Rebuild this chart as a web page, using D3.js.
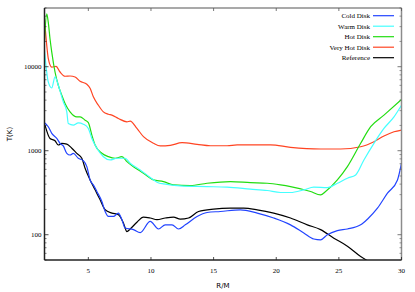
<!DOCTYPE html>
<html>
<head>
<meta charset="utf-8">
<script src="https://cdn.jsdelivr.net/npm/d3@7"></script>
<style>
body { margin: 0; background: #fff; }
</style>
</head>
<body>
<script>
// radius R/M for each series, temperature T(K)
var coldR = [1.5,1.8,2.08,2.48,2.74,3.0,3.28,3.54,3.8,4.2,4.6,4.88,5.14,5.4,5.68,6.08,6.34,6.6,7.0,7.4,7.68,7.94,8.6,9.14,9.94,10.6,11.14,11.68,12.2,12.74,13.68,14.48,15.54,17.14,18.48,19.8,21.14,22.2,23.0,23.54,24.08,24.88,25.68,26.74,27.28,28.08,28.88,29.68,30];
var coldT = [2150,1930,1610,1400,1225,1140,931,889,931,813,761,646,449,392,327,248,189,165,165,181,151,120,115,106,144,117,131,131,117,131,165,184,189,198,181,158,131,105,89,87,100,112,117,131,153,207,312,449,710];

var warmR = [1.5,1.8,2.08,2.34,2.6,3.0,3.28,3.4,3.8,4.2,4.6,5.0,5.28,5.68,6.2,6.74,7.28,7.94,8.34,9.14,9.94,10.68,11.0,12.34,14.48,16.08,17.94,19.28,20.34,21.14,22.2,23.0,24.08,24.88,25.68,26.34,27.0,27.8,28.6,29.4,30];
var warmT = [15700,6590,5580,7560,6020,3810,2900,2110,2020,2150,2070,1840,1400,1070,849,776,813,813,710,590,481,410,403,381,374,368,349,336,318,318,342,368,364,410,471,515,776,1225,1840,2530,3480];

var hotR = [1.5,1.68,1.8,1.94,2.08,2.34,2.6,2.88,3.14,3.54,4.08,4.34,4.74,5.0,5.28,5.54,6.08,6.6,7.14,7.68,8.08,8.6,9.4,10.2,11.0,11.8,13.14,14.48,16.34,17.94,19.28,20.34,21.14,22.74,23.54,23.94,24.88,25.68,26.74,27.54,28.6,30];
var hotT = [20600,42600,33900,21500,14900,8650,6020,4580,3650,2900,2530,2530,2310,2160,1535,1170,931,849,813,849,741,646,540,449,429,392,385,410,429,417,410,392,374,327,298,327,449,646,1225,1930,2650,4070];

var veryHotR = [1.5,1.68,1.8,2.08,2.42,2.74,3.14,3.54,3.94,4.34,4.88,5.14,5.4,5.8,6.2,6.6,6.88,7.4,8.08,8.34,8.88,9.4,10.2,10.74,11.54,12.48,13.68,14.74,16.08,16.88,18.2,19.54,21.14,23.54,25.14,26.74,27.8,28.6,29.4,30];
var veryHotT = [37000,17900,12600,9900,10100,8650,7700,7750,7550,6710,6180,5550,4380,3480,2900,2720,2650,2420,2210,2250,1840,1470,1225,1140,1160,1245,1190,1145,1145,1175,1175,1175,1097,1048,1048,1115,1280,1495,1680,1760];

var refR = [1.54,1.94,2.34,2.6,2.88,3.28,3.68,4.08,4.48,4.74,5.14,5.54,5.94,6.34,6.88,7.4,7.8,8.08,8.34,8.88,9.4,9.94,10.48,11.14,11.8,12.34,13.0,13.8,15.0,16.34,17.4,18.48,19.8,21.14,22.48,23.54,24.6,25.68,26.74,27.28];
var refT = [2020,1400,1315,1170,1225,1200,1070,931,813,618,449,342,260,198,181,173,138,109,117,141,162,158,151,158,162,153,158,189,202,207,207,198,181,158,131,115,91,73,55,49];

var seriesNames = ["Cold Disk","Warm Disk","Hot Disk","Very Hot Disk","Reference"];
var seriesColors = ["#2244ff","#44ffff","#22dd11","#ff4422","#000000"];
var xTicks = [5,10,15,20,25,30];
var yTicks = [100,1000,10000];

var width = 415, height = 292;
var plotLeft = 44.5, plotRight = 401.5, plotTop = 8, plotBottom = 260;

var svg = d3.select('body').append('svg')
	.attr("width", width)
	.attr("height", height);

var x = d3.scaleLinear().domain([1.5, 30]).range([plotLeft, plotRight]);
var y = d3.scaleLog().domain([50, 50000]).range([plotBottom, plotTop]);

svg.append("defs").append("clipPath").attr("id", "plotClip")
	.append("rect")
	.attr("x", plotLeft).attr("y", plotTop)
	.attr("width", plotRight - plotLeft).attr("height", plotBottom - plotTop);

// minor ticks for the log axis
var minorTicks = [];
[10,100,1000,10000].forEach(function(d){
	for (var k=2; k<10; k++){
		if (d*k >= 50 && d*k <= 50000) minorTicks.push(d*k);
	}
});

var allR = [coldR, warmR, hotR, veryHotR, refR];
var allT = [coldT, warmT, hotT, veryHotT, refT];

var line = d3.line()
	.x(function(d){ return x(d[0]); })
	.y(function(d){ return y(d[1]); })
	.curve(d3.curveMonotoneX);

var plot = svg.append("g").attr("clip-path", "url(#plotClip)");
// draw in reverse so cold disk ends up on top of reference
for (var s=4; s>=0; s--){
	var pts = allR[s].map(function(r, i){ return [r, allT[s][i]]; });
	plot.append("path")
		.attr("d", line(pts))
		.attr("fill", "none")
		.attr("stroke", seriesColors[s])
		.attr("stroke-width", 1.2);
}

var frame = svg.append("g");
// top and right edges are grey
frame.append("line").attr("x1", plotLeft).attr("x2", plotRight).attr("y1", plotTop).attr("y2", plotTop)
	.attr("stroke", "#8c8c8c").attr("stroke-width", 1.5);
frame.append("line").attr("x1", plotRight).attr("x2", plotRight).attr("y1", plotTop).attr("y2", plotBottom)
	.attr("stroke", "#8c8c8c").attr("stroke-width", 1.5);
frame.append("line").attr("x1", plotLeft).attr("x2", plotRight).attr("y1", plotBottom).attr("y2", plotBottom)
	.attr("stroke", "#222").attr("stroke-width", 1.5);
frame.append("line").attr("x1", plotLeft).attr("x2", plotLeft).attr("y1", plotTop).attr("y2", plotBottom)
	.attr("stroke", "#222").attr("stroke-width", 1.5);

// x ticks, inward on bottom and top
xTicks.forEach(function(t){
	frame.append("line").attr("x1", x(t)).attr("x2", x(t)).attr("y1", plotBottom).attr("y2", plotBottom-3)
		.attr("stroke", "#222").attr("stroke-width", 0.8);
	frame.append("line").attr("x1", x(t)).attr("x2", x(t)).attr("y1", plotTop).attr("y2", plotTop+3)
		.attr("stroke", "#555").attr("stroke-width", 0.8);
});
// y ticks, inward on left and right
yTicks.forEach(function(t){
	frame.append("line").attr("x1", plotLeft).attr("x2", plotLeft+4).attr("y1", y(t)).attr("y2", y(t))
		.attr("stroke", "#222").attr("stroke-width", 0.8);
	frame.append("line").attr("x1", plotRight).attr("x2", plotRight-4).attr("y1", y(t)).attr("y2", y(t))
		.attr("stroke", "#555").attr("stroke-width", 0.8);
});
minorTicks.forEach(function(t){
	frame.append("line").attr("x1", plotLeft).attr("x2", plotLeft+2).attr("y1", y(t)).attr("y2", y(t))
		.attr("stroke", "#222").attr("stroke-width", 0.6);
	frame.append("line").attr("x1", plotRight).attr("x2", plotRight-2).attr("y1", y(t)).attr("y2", y(t))
		.attr("stroke", "#555").attr("stroke-width", 0.6);
});

svg.selectAll(".xlab")
	.data(xTicks)
	.enter()
	.append("text")
	.attr("x", function(d){ return x(d); })
	.attr("y", 273)
	.attr("text-anchor", "middle")
	.style("font-family", "Liberation Serif")
	.style("font-size", "7px")
	.text(function(d){ return d; });

svg.selectAll(".ylab")
	.data(yTicks)
	.enter()
	.append("text")
	.attr("x", plotLeft - 3)
	.attr("y", function(d){ return y(d) + 2.5; })
	.attr("text-anchor", "end")
	.style("font-family", "Liberation Serif")
	.style("font-size", "7px")
	.text(function(d){ return d; });

svg.append("text")
	.attr("x", (plotLeft+plotRight)/2)
	.attr("y", 288)
	.attr("text-anchor", "middle")
	.style("font-family", "DejaVu Sans")
	.style("font-size", "7px")
	.text("R/M");

svg.append("text")
	.attr("transform", "translate(12," + (plotTop+plotBottom)/2 + ") rotate(-90)")
	.attr("text-anchor", "middle")
	.style("font-family", "DejaVu Sans")
	.style("font-size", "7px")
	.text("T(K)");

// legend
var legendY = [15.7, 26.2, 36.7, 47.2, 57.7];
seriesNames.forEach(function(name, i){
	svg.append("text")
		.attr("x", 370)
		.attr("y", legendY[i] + 2.3)
		.attr("text-anchor", "end")
		.style("font-family", "Liberation Serif")
		.style("font-size", "7px")
		.text(name);
	svg.append("line")
		.attr("x1", 373).attr("x2", 394)
		.attr("y1", legendY[i]).attr("y2", legendY[i])
		.attr("stroke", seriesColors[i])
		.attr("stroke-width", 1.2);
});
</script>
</body>
</html>
